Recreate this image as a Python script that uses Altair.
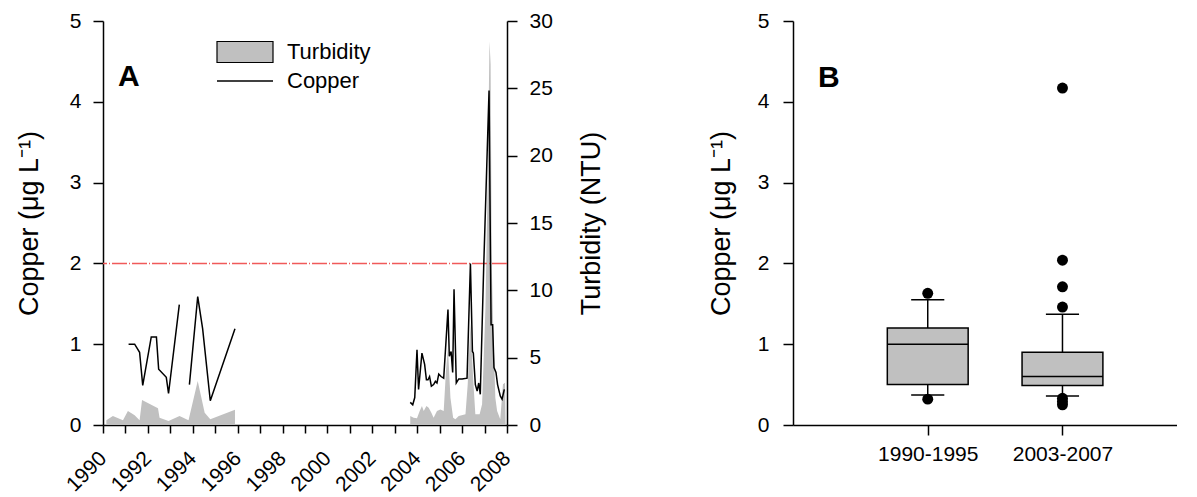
import altair as alt
import pandas as pd

# ---------------- Panel A data ----------------
# Copper (ug/L), early period, segment 1 and 2
cu_a_year = [1991.14, 1991.41, 1991.63, 1991.77, 1992.15, 1992.38, 1992.48, 1992.82, 1992.92, 1993.40]
cu_a_val = [1.00, 1.00, 0.90, 0.49, 1.09, 1.09, 0.69, 0.59, 0.39, 1.49]
cu_b_year = [1993.85, 1994.22, 1994.44, 1994.78, 1995.88]
cu_b_val = [0.50, 1.59, 1.19, 0.30, 1.19]
# Copper, later period
cu_c_year = [2003.69, 2003.80, 2003.89, 2003.99, 2004.06, 2004.21, 2004.33, 2004.41, 2004.48, 2004.55,
             2004.63, 2004.73, 2004.81, 2004.88, 2004.96, 2005.06, 2005.18, 2005.37, 2005.43, 2005.51,
             2005.58, 2005.64, 2005.74, 2005.85, 2006.00, 2006.22, 2006.37, 2006.46, 2006.50, 2006.59,
             2006.67, 2006.74, 2006.81, 2006.96, 2007.20, 2007.29, 2007.36, 2007.42, 2007.51, 2007.58,
             2007.70, 2007.78, 2007.88]
cu_c_val = [0.28, 0.25, 0.34, 0.93, 0.44, 0.89, 0.75, 0.56, 0.56, 0.60,
            0.48, 0.50, 0.54, 0.52, 0.63, 0.60, 0.58, 1.43, 0.85, 0.91,
            0.65, 1.68, 0.52, 0.57, 0.57, 0.58, 2.00, 0.91, 0.89, 0.50,
            0.42, 0.52, 0.38, 1.94, 4.14, 1.24, 1.24, 0.71, 0.65, 0.50,
            0.36, 0.32, 0.44]

# Turbidity (NTU), early period
tu_a_year = [1990.15, 1990.44, 1990.89, 1991.11, 1991.41, 1991.63, 1991.74, 1992.45, 1992.52, 1992.92,
             1993.41, 1993.81, 1994.22, 1994.53, 1994.78, 1995.88]
tu_a_val = [0.35, 0.67, 0.35, 1.04, 0.72, 0.35, 1.86, 1.24, 0.54, 0.30,
            0.67, 0.35, 3.27, 0.91, 0.42, 1.14]
# Turbidity, later period
tu_b_year = [2003.69, 2003.84, 2003.99, 2004.11, 2004.21, 2004.29, 2004.41, 2004.51, 2004.63, 2004.73,
             2004.88, 2005.03, 2005.18, 2005.28, 2005.37, 2005.48, 2005.60, 2005.70, 2005.85, 2006.15,
             2006.25, 2006.37, 2006.49, 2006.59, 2006.78, 2006.89, 2007.04, 2007.14, 2007.22, 2007.27,
             2007.32, 2007.38, 2007.48, 2007.56, 2007.70, 2007.82, 2007.91, 2007.94]
tu_b_val = [0.67, 0.54, 0.50, 1.04, 1.41, 1.04, 1.41, 1.29, 0.91, 0.54,
            1.04, 1.16, 1.04, 4.01, 5.74, 2.03, 0.54, 0.42, 0.67, 0.79,
            3.02, 7.60, 3.51, 0.79, 0.79, 1.54, 8.71, 18.1, 28.5, 26.8,
            11.9, 7.7, 2.03, 1.04, 0.42, 3.02, 3.14, 0.0]

guideline = [2.0]
year_ticks = list(range(1990, 2009))
copper_ticks = [0, 1, 2, 3, 4, 5]
turb_ticks = [0, 5, 10, 15, 20, 25, 30]

# ---------------- Panel B data ----------------
periods = ["1990-1995", "2003-2007"]
period_pos = [1, 2]
box_q1 = [0.50, 0.49]
box_med = [1.00, 0.60]
box_q3 = [1.20, 0.90]
box_lo = [0.37, 0.36]
box_hi = [1.55, 1.37]
out_pos = [1, 1, 2, 2, 2, 2, 2, 2, 2]
out_val = [1.63, 0.32, 4.17, 2.04, 1.71, 1.46, 0.33, 0.29, 0.25]

FONT = "Liberation Sans"
GREY = "#c0c0c0"
TICK = 10

cu_df = pd.DataFrame({
    "year": cu_a_year + cu_b_year + cu_c_year,
    "copper": cu_a_val + cu_b_val + cu_c_val,
    "seg": ["a"] * len(cu_a_year) + ["b"] * len(cu_b_year) + ["c"] * len(cu_c_year),
    "series": "Copper",
})
tu_df = pd.DataFrame({
    "year": tu_a_year + tu_b_year,
    "turb": tu_a_val + tu_b_val,
    "seg": ["a"] * len(tu_a_year) + ["b"] * len(tu_b_year),
    "series": "Turbidity",
})

xA = alt.X("year:Q", scale=alt.Scale(domain=[1990, 2008], nice=False, zero=False),
           axis=alt.Axis(title=None, values=year_ticks, format="d",
                         labelExpr="datum.value % 2 == 0 ? datum.label : ''",
                         labelAngle=315, labelAlign="right", labelBaseline="middle",
                         labelOverlap=False, labelFlush=False,
                         labelPadding=22, tickSize=8))

area = alt.Chart(tu_df).mark_area(opacity=1).encode(
    x=xA,
    y=alt.Y("turb:Q", stack=None, scale=alt.Scale(domain=[0, 30], nice=False),
            axis=alt.Axis(orient="right", title="Turbidity (NTU)", values=turb_ticks, format="d",
                          tickSize=TICK, labelPadding=12, titlePadding=26, titleAngle=270,
                          titleBaseline="top")),
    detail="seg:N",
    fill=alt.Fill("series:N", scale=alt.Scale(domain=["Turbidity"], range=[GREY]),
                  legend=alt.Legend(title=None, orient="none", legendX=113, legendY=2,
                                    symbolType="M-1,-0.375H1V0.375H-1Z", symbolSize=3136,
                                    symbolStrokeColor="black", symbolStrokeWidth=1.2,
                                    labelFontSize=22, labelFont=FONT, labelOffset=13)),
)

rule = alt.Chart(pd.DataFrame({"g": guideline})).mark_rule(
    color="#f05a5a", strokeWidth=1.5, strokeDash=[15, 2, 1, 2]
).encode(y=alt.Y("g:Q"))

line = alt.Chart(cu_df).mark_line(strokeWidth=1.5).encode(
    x=xA,
    y=alt.Y("copper:Q", scale=alt.Scale(domain=[0, 5], nice=False),
            axis=alt.Axis(orient="left", title="Copper (μg L⁻¹)", values=copper_ticks, format="d",
                          tickSize=TICK, labelPadding=12, titlePadding=26)),
    detail="seg:N",
    stroke=alt.Stroke("series:N", scale=alt.Scale(domain=["Copper"], range=["black"]),
                      legend=alt.Legend(title=None, orient="none", legendX=113, legendY=31,
                                        symbolType="stroke", symbolSize=3136, symbolStrokeWidth=1.5,
                                        labelFontSize=22, labelFont=FONT, labelOffset=13)),
)

labA = alt.Chart(pd.DataFrame({"t": ["A"]})).mark_text(
    fontSize=30, fontWeight="bold", font=FONT, align="left", baseline="middle"
).encode(text="t:N", x=alt.value(15), y=alt.value(56))

copper_layer = alt.layer(rule, line, labA)
panelA = alt.layer(area, copper_layer).resolve_scale(y="independent").properties(width=404, height=404)

# ---------------- Panel B ----------------
box_df = pd.DataFrame({"pos": period_pos, "q1": box_q1, "med": box_med, "q3": box_q3,
                       "lo": box_lo, "hi": box_hi})
box_df["bx1"] = box_df["pos"] - 0.3
box_df["bx2"] = box_df["pos"] + 0.3
box_df["cx1"] = box_df["pos"] - 0.123
box_df["cx2"] = box_df["pos"] + 0.123
out_df = pd.DataFrame({"pos": out_pos, "val": out_val})

label_expr = " : ".join([f"datum.value == {p} ? '{c}'" for p, c in zip(period_pos, periods)]) + " : ''"
xB_scale = alt.Scale(domain=[0, 2.85], nice=False, zero=False)
xB_axis = alt.Axis(title=None, values=period_pos, labelExpr=label_expr, tickSize=TICK, labelPadding=8,
                   labelAngle=0)
yB_scale = alt.Scale(domain=[0, 5], nice=False)
yB_axis = alt.Axis(title="Copper (μg L⁻¹)", values=copper_ticks, format="d", tickSize=TICK,
                   labelPadding=14, titlePadding=22)

boxes = alt.Chart(box_df).mark_bar(fill=GREY, stroke="black", strokeWidth=1.5).encode(
    x=alt.X("bx1:Q", scale=xB_scale, axis=xB_axis), x2="bx2:Q",
    y=alt.Y("q1:Q", scale=yB_scale, axis=yB_axis), y2="q3:Q")
w_hi = alt.Chart(box_df).mark_rule(color="black", strokeWidth=1.5).encode(x="pos:Q", y="q3:Q", y2="hi:Q")
w_lo = alt.Chart(box_df).mark_rule(color="black", strokeWidth=1.5).encode(x="pos:Q", y="lo:Q", y2="q1:Q")
cap_hi = alt.Chart(box_df).mark_rule(color="black", strokeWidth=1.5).encode(x="cx1:Q", x2="cx2:Q", y="hi:Q")
cap_lo = alt.Chart(box_df).mark_rule(color="black", strokeWidth=1.5).encode(x="cx1:Q", x2="cx2:Q", y="lo:Q")
medl = alt.Chart(box_df).mark_rule(color="black", strokeWidth=1.5).encode(x="bx1:Q", x2="bx2:Q", y="med:Q")
outs = alt.Chart(out_df).mark_circle(color="black", size=120, opacity=1).encode(x="pos:Q", y="val:Q")
labB = alt.Chart(pd.DataFrame({"t": ["B"]})).mark_text(
    fontSize=30, fontWeight="bold", font=FONT, align="left", baseline="middle"
).encode(text="t:N", x=alt.value(25), y=alt.value(57))

panelB = alt.layer(w_hi, w_lo, cap_hi, cap_lo, boxes, medl, outs, labB).properties(width=384, height=404)

chart = alt.hconcat(panelA, panelB, spacing=102).properties(
    padding={"left": 7, "top": 2, "right": 0, "bottom": 0}
).configure_view(stroke=None).configure_axis(
    grid=False, domainColor="black", tickColor="black", domainWidth=1.5, tickWidth=1.5,
    labelColor="black", titleColor="black", labelFont=FONT, titleFont=FONT,
    labelFontSize=21, titleFontSize=27, titleFontWeight="normal"
).configure_legend(labelColor="black")

chart.save("out.html", embed_options={"renderer": "svg", "actions": False})
